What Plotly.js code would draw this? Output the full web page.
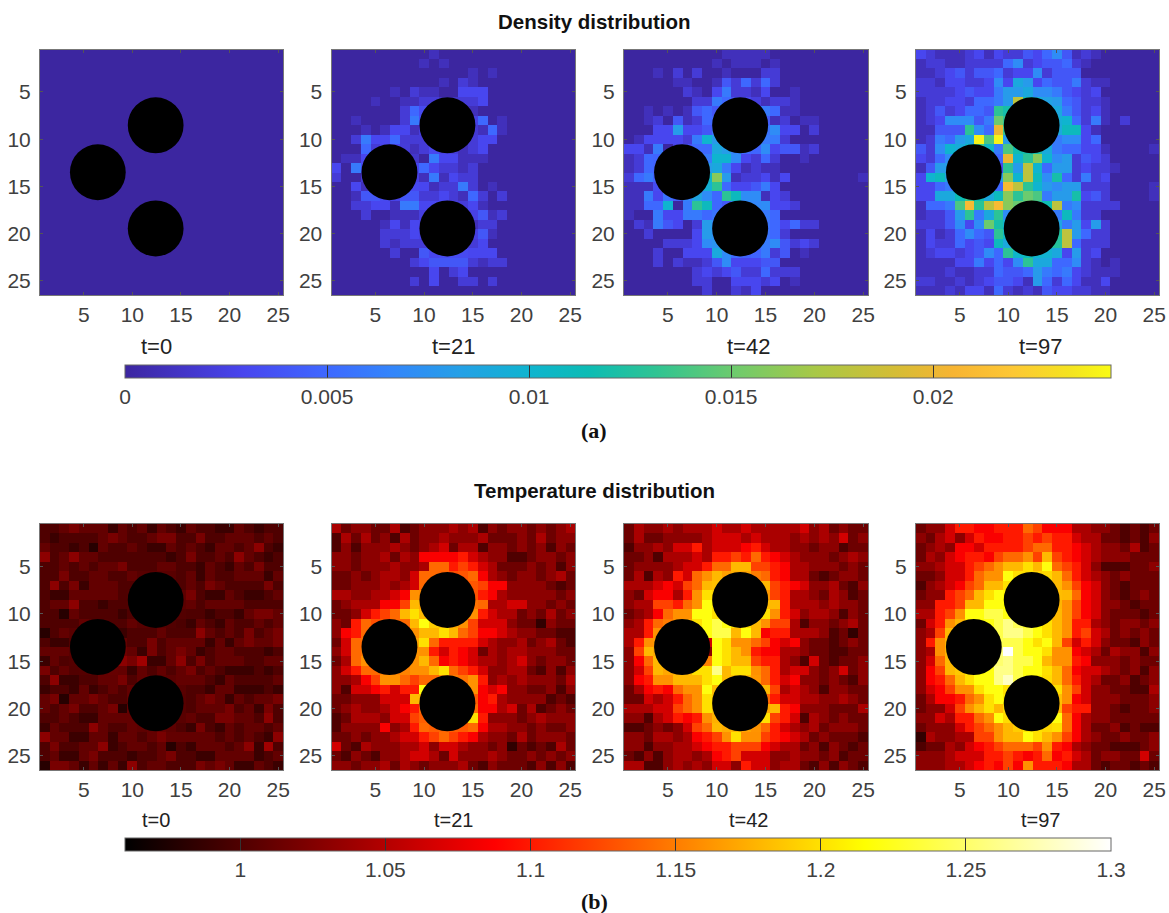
<!DOCTYPE html>
<html>
<head>
<meta charset="utf-8">
<title>Density and temperature distribution</title>
<script src="https://cdn.plot.ly/plotly-3.0.1.min.js"></script>
<style>html,body{margin:0;padding:0;background:#fff}</style>
</head>
<body>
<div id="chart" style="width:1169px;height:913px"></div>
<script>
// Cell levels, one base-36 character per cell, one string per grid row.
// "." marks a cell hidden behind a black disc.
const densityT0 = Array(26).fill("00000 00000 00000 00000 00000");
const densityT21 = [
"00000 00000 10000 00000 00000","00000 00001 01000 00000 00000","00000 00000 00001 01000 00000",
"00000 00000 01021 00000 00000","00000 01021 10033 30000 00000","00001 00112 2...2 30000 00000",
"00000 0025. ....1 00000 00000","00100 0026. ..... 50100 00000","00010 1331. ..... 15100 00000",
"00263 35222 ....2 33000 00000","00052 ...12 3..12 30000 00000","0113. ....0 63311 10000 00000",
"306.. ....5 32212 00000 00000","200.. ....1 61322 00000 00000","0031. ....3 12262 01000 00000",
"00144 ...42 23215 20200 00000","00223 31663 3...3 10000 00000","00020 0111. ..... 41200 00000",
"00000 1313. ....1 22000 00000","00000 2223. ..... 41000 00000","00000 21222 ....2 30000 00000",
"00000 02004 3...3 33000 00000","00000 00023 44442 12200 00000","00000 00000 30230 00000 00000",
"00000 00020 30022 02000 00000","00000 00000 00000 00000 00000"];
const densityT42 = [
"00000 00000 11111 00000 00000","00000 00001 01110 10000 00000","00010 20200 10002 20000 00000",
"00000 11001 42525 20000 00000","00000 02103 62213 00100 00000","00000 00226 ....1 22100 00000",
"00101 01454 ....6 51100 00000","00120 4125. ..... 12011 00000","00033 8334. ..... 73302 00000",
"01333 326a. ..... 62000 00000","33160 ...59 ....7 34412 00000","125.. ...6a a7325 20010 00000",
"125.. ....9 63121 10000 00000","256.. ....g 81223 13000 00001","111.. ....d 53346 30000 00000",
"1163. ...75 db771 32000 00000","1155a 06db5 4...7 33200 00000","10063 3665. ..... 50000 00000",
"02164 3028. ..... 53522 00000","00200 0038. ..... 52000 00000","00002 2237. ..... 74232 00000",
"00020 03339 ....6 24010 00000","00020 21124 73334 40000 00000","00000 00232 34225 22200 00000",
"00000 00220 03332 30100 00000","00000 00020 02130 00000 00000"];
const densityT97 = [
"32111 23132 24357 41210 00000","12211 22225 72344 52100 00000","11234 24452 33724 44000 00000",
"22133 22373 98354 46211 00000","22223 43368 89776 43230 00000","12233 25568 i...8 54221 00000",
"12423 554d. ....9 64231 00000","12377 746f. ..... a5261 02000","11444 d75k. ..... bb310 00000",
"12658 9oeo8 ....6 77350 00000","427a. ...6e ....6 55331 00001","3257. ...5k adga7 82432 00000",
"148.. ...3d 8ia58 82322 10000","3ab.. ....g aib7c 52623 00000","3356. ...5l ida87 88222 00001",
"3399. ..9bg dfe68 8c342 00001","1556e ldilg f...i 67222 20000","12248 d69d7 ....6 b6220 00000",
"22247 37fc. ..... 68382 00000","13125 754d. ..... i8522 00000","13225 343b9 ..... i5222 00000",
"12332 3475d ....9 38230 00000","11113 36353 7d995 57210 10000","11121 12254 45865 63211 10000",
"22112 12344 31852 53113 00000","11121 33152 12143 32211 00000"];
const temperatureT0 = [
"22343 33132 31321 32211 32122","21222 23432 23442 24223 33232","32212 03223 21132 32133 23521",
"52353 32222 22212 42232 53212","22323 23342 22332 21321 32422","22422 33223 ....2 31322 33313",
"25241 33322 ....2 32432 22242","21133 3332. ..... 42113 21123","23352 2122. ..... 32333 32222",
"22032 22212 ..... 22122 13443","22223 ...23 ..... 13213 22323","023.. ...12 22322 25323 24234",
"211.. ...32 24233 33131 34334","333.. ....3 14234 31233 22212","132.. ...54 61135 24233 32233",
"423.. ...31 32323 42321 11212","25112 23342 3...3 33213 22223","12213 12323 ..... 22133 11121",
"34033 43223 ..... 23431 32334","32342 23403 ..... 23334 23142","22321 13333 ..... 32244 33252",
"13222 53223 ....2 14213 23323","53311 33133 23433 33323 23215","24223 35123 32302 13332 35162",
"23113 42221 22342 21133 33123","04431 31315 23322 24343 11321"];
const temperatureT21 = [
"42332 24123 33434 13233 23234","14242 31423 34333 42223 24233","13133 34323 45244 13323 23132",
"33233 42436 66675 43311 23323","33233 34334 99787 54222 32313","22323 44359 ....9 64323 32342",
"22333 43459 ..... 86633 33212","44334 456a. ..... 76433 33323","23444 668b. ..... 94455 33232",
"22357 89bcb ....a 75442 32423","3279. ..9bd ...a8 55532 20322","3679. ...ab bcb98 66543 32211",
"259.. ....c 97777 54334 23421","359.. ....a 75765 24344 33322","249a. ...ab 96765 44345 32332",
"3579. ...aa bc987 53344 21313","33468 aa989 9...a 73434 33324","31556 7577d ....a 65633 22313",
"22333 555b. ..... 67433 33121","23433 4567. ..... 66452 41232","12444 3558. ....c 73332 34333",
"13333 63479 ....9 64433 23223","22323 34557 89876 43324 23332","52143 33445 35543 32302 12142",
"21321 33455 42533 34322 32323","33233 42432 33342 13222 13131"];
const temperatureT42 = [
"24334 34445 44544 44453 42322","24223 33345 55454 44343 43523","13343 55745 55675 44332 33122",
"22314 44547 78797 65433 32343","23333 45579 9bb88 76443 33232","24143 759ab ....9 76442 12332",
"44456 589b. ....b 87653 34213","32566 47ac. ..... 87443 24312","34488 79ad. ..... b7444 34332",
"23469 aaddc ....c a7534 43132","3479. ..cde ...ba 88413 32342","447a. ...de ebdb6 77444 31202",
"47a.. ...5d caa98 65632 21232","38b.. ...3d cba76 64432 21122","369b. ....d cbb87 74315 21223",
"358b. ..ccf bcca9 74553 23523","367aa bbbcd b...9 75633 23213","24676 9aadb ....b 84543 13322",
"22545 79ac. ....9 75544 33432","44455 89ac. ..... b7633 32224","33145 767a. ....c 87514 32322",
"11232 3589b ....9 75434 23332","33244 34678 acaa8 76542 32221","33133 44567 78886 54423 13212",
"21313 44346 78555 33433 23122","44113 43435 53755 34421 31321"];
const temperatureT97 = [
"23357 76677 79866 64433 21212","32453 57667 78787 75442 21213","23436 65777 78997 76543 32412",
"24356 77689 9a8b8 76543 33222","33455 789ab bcbd9 87531 11223","22355 79aad ....b 97543 23222",
"13456 89bbc ....b a8653 21222","23378 9bcd. ..... b9653 21232","33778 bbdd. ..... a8653 32122",
"4478a ddeed ....b a8653 22212","257a. ..def ...cb a7743 23323","348b. ...ef fedcb a7854 23232",
"37a.. ....e edcdb 85753 22132","34a.. ....h eddca a6542 43313","359b. ....f eedba a7633 32322",
"368b. ..dff eddcb 96554 32313","3679b cddfg e...b 97542 23123","3568a acddc ....c a8533 22114",
"24667 9acd. ..... a6533 32223","23358 abcb. ..... 87733 21223","33547 79ad. ....d 96433 22222",
"23335 789ab ....c 96422 31211","04334 488ab bdcba 86432 23223","12243 56789 998a7 64322 11123",
"33345 55778 76796 75423 32252","33344 56768 6a777 64421 22121"];

// Value of each level character, as read against the colour bars
const densityLevels = [0,0.001,0.002,0.003,0.004,0.005,0.006,0.007,0.008,0.009,0.01,0.011,0.012,0.013,0.014,0.015,0.016,0.017,0.018,0.019,0.02,0.021,0.022,0.023,0.024];
const temperatureLevelsT0 = [0.98,0.99,1,1.01,1.02,1.03,1.04];
const temperatureLevels = [0.985,1,1.015,1.03,1.045,1.065,1.085,1.1,1.12,1.14,1.16,1.18,1.2,1.22,1.24,1.26,1.28,1.3];

const timeLabels = ["t=0", "t=21", "t=42", "t=97"];
const axisTicks = [5, 10, 15, 20, 25];
const densityBarTicks = [0, 0.005, 0.01, 0.015, 0.02];
const temperatureBarTicks = [1, 1.05, 1.1, 1.15, 1.2, 1.25, 1.3];
const discCentersX = [12.4, 6.45, 12.4];
const discCentersY = [8.53, 13.5, 19.45];

const parula = [[0,"#3c26a0"],[0.06,"#4335c8"],[0.12,"#4845ee"],[0.2,"#3f66ff"],[0.27,"#3385fb"],
  [0.34,"#24a0e6"],[0.41,"#0fb4cf"],[0.47,"#0cbcb4"],[0.54,"#30c492"],[0.62,"#6fcb6c"],
  [0.7,"#a8c846"],[0.78,"#d4bd35"],[0.84,"#f7b432"],[0.9,"#fdc734"],[0.96,"#f4e41f"],[1,"#f9fb14"]];
const hot = [[0,"#000000"],[0.375,"#ff0000"],[0.75,"#ffff00"],[1,"#ffffff"]];

// ---- layout constants (pixels) ----
const W = 1169, H = 913;
const panelsX = [[40,283],[331.5,575],[624,868],[916,1159]];
const rowsY = [[49.5,295],[524,770]];
const barsY = [[365,378],[838,851]];
const barX = [125,1111];
const FONT = "Liberation Sans, Arial, sans-serif";
const TICKC = "#404040";

function decode(rows, levels) {
  return rows.map(r => r.replace(/ /g, "").split("").map(c => c === "." ? null : levels[parseInt(c, 36)]));
}
const rowData = [
  {panels:[densityT0,densityT21,densityT42,densityT97], levels:[densityLevels,densityLevels,densityLevels,densityLevels], zmin:0, zmax:0.0244, cs:parula, ticks:densityBarTicks},
  {panels:[temperatureT0,temperatureT21,temperatureT42,temperatureT97], levels:[temperatureLevelsT0,temperatureLevels,temperatureLevels,temperatureLevels], zmin:0.9603, zmax:1.3, cs:hot, ticks:temperatureBarTicks}
];

const data = [];
const layout = {
  width:W, height:H, autosize:false, margin:{l:0,r:0,t:0,b:0,pad:0},
  paper_bgcolor:"#fff", plot_bgcolor:"#fff", showlegend:false,
  font:{family:FONT,color:TICKC}, shapes:[], annotations:[]
};
let n = 0;
rowData.forEach((row, ri) => {
  row.panels.forEach((rows, pi) => {
    n++;
    const suf = n === 1 ? "" : String(n);
    const xName = "xaxis"+suf, yName = "yaxis"+suf;
    const common = {
      ticks:"inside", ticklen:3, tickwidth:1, tickcolor:"#555", showline:true, linecolor:"#777", linewidth:1,
      mirror:"ticks", showgrid:false, zeroline:false, tickmode:"array", tickvals:axisTicks, ticktext:axisTicks.map(String),
      tickfont:{family:FONT,size:21,color:TICKC}
    };
    layout[xName] = Object.assign({}, common, {
      domain:[panelsX[pi][0]/W, panelsX[pi][1]/W], range:[0.5,25.5], anchor:"y"+suf, ticklabelstandoff:1
    });
    layout[yName] = Object.assign({}, common, {
      domain:[1-rowsY[ri][1]/H, 1-rowsY[ri][0]/H], range:[26.5,0.5], anchor:"x"+suf, ticklabelstandoff:4
    });
    const trace = {
      type:"heatmap", z:decode(rows,row.levels[pi]), x0:1, dx:1, y0:1, dy:1, xaxis:"x"+suf, yaxis:"y"+suf,
      zmin:row.zmin, zmax:row.zmax, colorscale:row.cs, connectgaps:true, xgap:0, ygap:0,
      showscale:pi === 0, hoverinfo:"skip"
    };
    if (pi === 0) {
      trace.colorbar = {
        orientation:"h", thickness:barsY[ri][1]-barsY[ri][0], thicknessmode:"pixels",
        len:barX[1]-barX[0], lenmode:"pixels", x:(barX[0]+barX[1])/2/W, xanchor:"center",
        y:1-barsY[ri][0]/H, yanchor:"top", xpad:0, ypad:0,
        outlinecolor:"#666", outlinewidth:1, borderwidth:0,
        ticks:"inside", ticklen:13, tickwidth:1, tickcolor:"#333",
        tickmode:"array", tickvals:row.ticks, ticktext:row.ticks.map(String),
        tickfont:{family:FONT,size:21,color:TICKC}
      };
    }
    data.push(trace);
    discCentersX.forEach((cx, k) => {
      const cy = discCentersY[k], rx = 2.87, ry = 2.96;
      layout.shapes.push({type:"circle", xref:"x"+suf, yref:"y"+suf, layer:"above",
        x0:cx-rx, x1:cx+rx, y0:cy-ry, y1:cy+ry, fillcolor:"#000", line:{width:0}});
    });
  });
});

function note(text, px, py, font) {
  layout.annotations.push({text, xref:"paper", yref:"paper", x:px/W, y:1-py/H, showarrow:false,
    xanchor:"center", yanchor:"middle", font});
}
const labelX = [156, 453, 748, 1040];
timeLabels.forEach((t,i) => {
  note(t, labelX[i], 347, {family:FONT,size:22,color:"#222"});
  note(t, labelX[i], 820, {family:FONT,size:20,color:"#222"});
});
note("<b>Density distribution</b>", 594, 21, {family:FONT,size:20.5,color:"#111"});
note("<b>Temperature distribution</b>", 594, 491, {family:FONT,size:20.5,color:"#111"});
note("<b>(a)</b>", 594, 430, {family:"Liberation Serif, serif",size:22,color:"#111"});
note("<b>(b)</b>", 594, 901, {family:"Liberation Serif, serif",size:22,color:"#111"});

Plotly.newPlot("chart", data, layout, {displayModeBar:false, responsive:false});
</script>
</body>
</html>
